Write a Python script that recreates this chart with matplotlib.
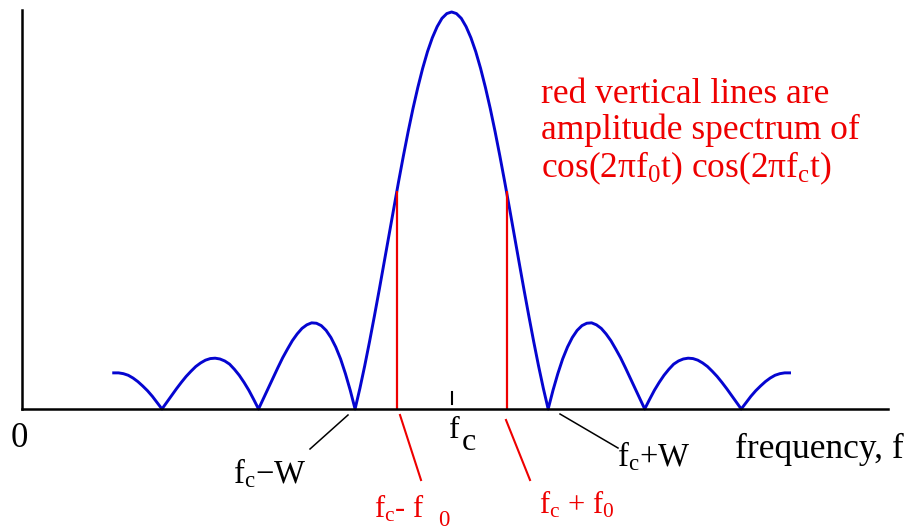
import numpy as np
import matplotlib
matplotlib.use("Agg")
import matplotlib.pyplot as plt
from matplotlib.lines import Line2D

plt.rcParams["font.family"] = ["Liberation Serif", "DejaVu Serif"]
plt.rcParams["mathtext.fontset"] = "custom"
plt.rcParams["mathtext.rm"] = "Liberation Serif"
plt.rcParams["mathtext.it"] = "Liberation Serif:italic"
plt.rcParams["mathtext.default"] = "regular"

# frequency axis in units of the bandwidth W
carrier = 4.45          # f_c
bandwidth = 1.0         # W
tone = 0.57             # f_0
axis_end = 8.97

# |spectrum| sampled every 0.05 W from f_c - 3.5W to f_c + 3.5W
offsets = np.round(np.arange(-70, 71) * 0.05, 2)
amplitude = [
    # f_c - 3.5W ... f_c - 0.05W
    0.091, 0.091, 0.089, 0.085, 0.078, 0.069, 0.058, 0.046, 0.032, 0.016,
    0.000, 0.017, 0.034, 0.051, 0.067, 0.082, 0.095, 0.107, 0.116, 0.123,
    0.127, 0.128, 0.126, 0.121, 0.113, 0.100, 0.085, 0.067, 0.047, 0.024,
    0.000, 0.026, 0.052, 0.078, 0.104, 0.129, 0.151, 0.172, 0.189, 0.203,
    0.212, 0.217, 0.216, 0.210, 0.198, 0.180, 0.156, 0.126, 0.089, 0.047,
    0.000, 0.052, 0.109, 0.170, 0.234, 0.300, 0.368, 0.436, 0.505, 0.572,
    0.637, 0.699, 0.757, 0.810, 0.858, 0.900, 0.935, 0.963, 0.984, 0.996,
    # f_c
    1.000,
    # f_c + 0.05W ... f_c + 3.5W
    0.996, 0.984, 0.963, 0.935, 0.900, 0.858, 0.810, 0.757, 0.699, 0.637,
    0.572, 0.505, 0.436, 0.368, 0.300, 0.234, 0.170, 0.109, 0.052, 0.000,
    0.047, 0.089, 0.126, 0.156, 0.180, 0.198, 0.210, 0.216, 0.217, 0.212,
    0.203, 0.189, 0.172, 0.151, 0.129, 0.104, 0.078, 0.052, 0.026, 0.000,
    0.024, 0.047, 0.067, 0.085, 0.100, 0.113, 0.121, 0.126, 0.128, 0.127,
    0.123, 0.116, 0.107, 0.095, 0.082, 0.067, 0.051, 0.034, 0.017, 0.000,
    0.016, 0.032, 0.046, 0.058, 0.069, 0.078, 0.085, 0.089, 0.091, 0.091,
]

# spectral lines of cos(2*pi*f0*t) cos(2*pi*fc*t) at fc -/+ f0
line_freqs = [carrier - tone, carrier + tone]
line_heights = [0.55, 0.55]

BLUE = "#0505d0"
RED = "#ee0000"

W_PX, H_PX = 919, 531
fig = plt.figure(figsize=(W_PX / 100, H_PX / 100), dpi=100)
ax = fig.add_axes([22 / W_PX, (H_PX - 409) / H_PX, 866 / W_PX, 399 / H_PX])
ax.set_xlim(0, axis_end)
ax.set_ylim(0, 1.005)

for side in ("top", "right"):
    ax.spines[side].set_visible(False)
for side in ("left", "bottom"):
    ax.spines[side].set_linewidth(1.8)
    ax.spines[side].set_color("black")
ax.set_xticks([])
ax.set_yticks([])
ax.patch.set_visible(False)

freqs = carrier + bandwidth * offsets
ax.plot(freqs, amplitude, color=BLUE, lw=2.1, solid_joinstyle="round", clip_on=False)
ax.vlines(line_freqs, 0, line_heights, color=RED, lw=1.6)
ax.plot([carrier, carrier], [0.013, 0.043], color="black", lw=1.5)


def px_text(x, y, s, **kw):
    fig.text(x / W_PX, 1 - y / H_PX, s, va="baseline", ha="left", **kw)


def px_line(x1, y1, x2, y2, **kw):
    fig.add_artist(Line2D([x1 / W_PX, x2 / W_PX], [1 - y1 / H_PX, 1 - y2 / H_PX],
                          transform=fig.transFigure, **kw))


# axis labels
px_text(11, 447, "0", fontsize=25)
px_text(449, 438, "f", fontsize=23)
px_text(462, 450, "c", fontsize=23)
px_text(735, 458, "frequency, f", fontsize=25.5)

# band edges
px_text(233, 483, "f$_{c}$\u2212W", fontsize=23.5)
px_line(310, 449, 348, 415, color="black", lw=1.1)
px_text(617, 466, "f$_{c}$+W", fontsize=23.5)
px_line(560, 414, 618, 448, color="black", lw=1.1)

# spectral line labels
px_text(374, 517, "f$_{c}$- f", fontsize=22, color=RED)
px_text(438, 526, "0", fontsize=16.5, color=RED)
px_line(400, 415, 421, 480, color=RED, lw=1.5)
px_text(539, 513, "f$_{c}$ + f$_{0}$", fontsize=22, color=RED)
px_line(506, 420, 530, 480, color=RED, lw=1.5)

# note
px_text(541, 103, "red vertical lines are", fontsize=25.5, color=RED)
px_text(541, 139, "amplitude spectrum of", fontsize=25.5, color=RED)
px_text(541, 177, "cos(2\u03c0f$_{0}$t) cos(2\u03c0f$_{c}$t)", fontsize=25.5, color=RED)

fig.savefig("out.png", dpi=100)
